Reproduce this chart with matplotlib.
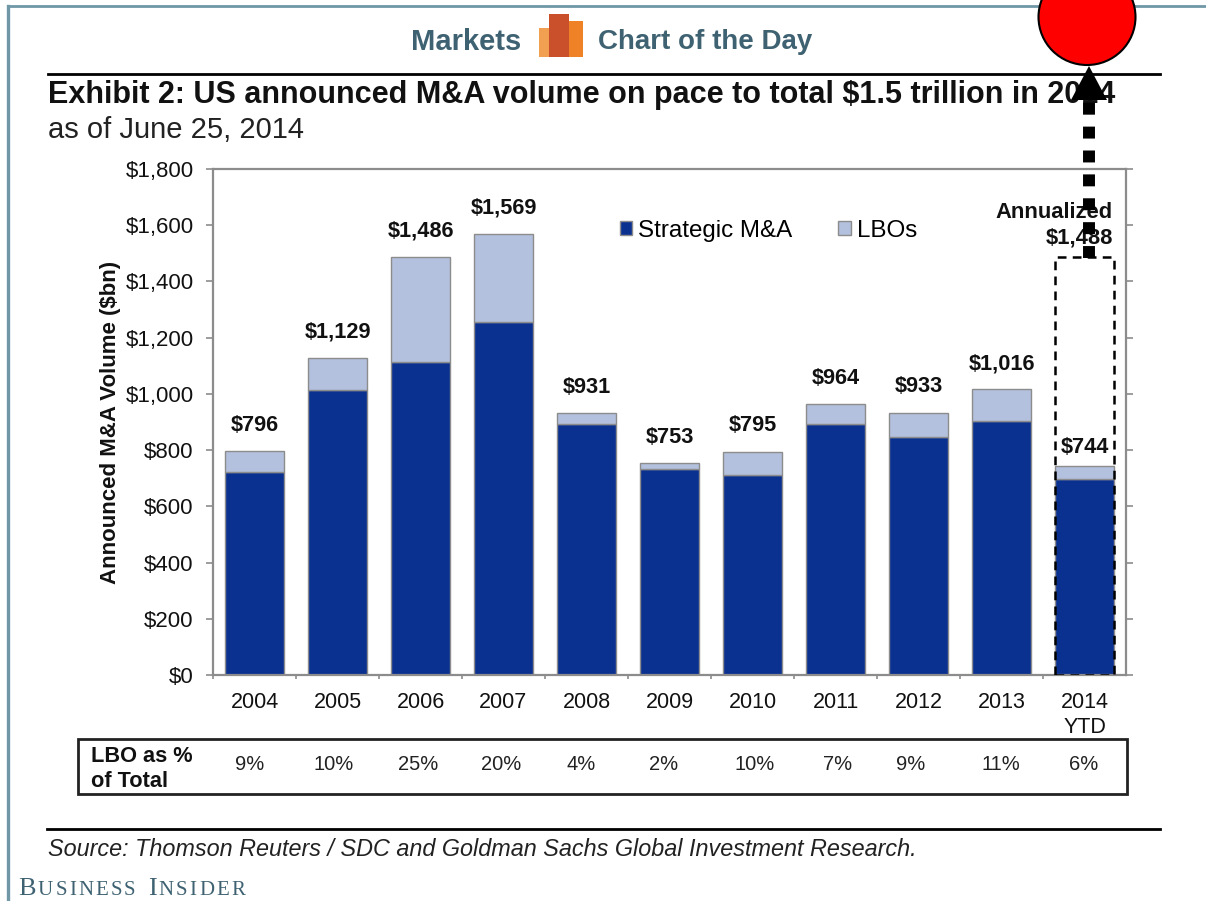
#!/usr/bin/python3

import matplotlib
matplotlib.use('Agg')
import matplotlib.pyplot as plt
from matplotlib.patches import Rectangle, Ellipse
import numpy as np

W, H = 1206, 901

years = ['2004', '2005', '2006', '2007', '2008', '2009', '2010', '2011', '2012', '2013', '2014\nYTD']
strategic = [722, 1015, 1115, 1255, 893, 732, 713, 893, 845, 905, 697]
totals = [796, 1129, 1486, 1569, 931, 753, 795, 964, 933, 1016, 744]
lbo_pct = ['9%', '10%', '25%', '20%', '4%', '2%', '10%', '7%', '9%', '11%', '6%']
y_ticks = [0, 200, 400, 600, 800, 1000, 1200, 1400, 1600, 1800]
annualized = 1488

# the percentages are not quite centred under the bars in the original
pct_x = [250, 334, 418, 501, 581, 664, 755, 838, 911, 1001, 1084]

BLUE = '#0B3190'
LIGHT = '#B3C1DE'
GREY = '#8C8C8C'
TEAL = '#6F97A6'
HEAD = '#3F6272'

plt.rcParams['font.family'] = ['Liberation Sans', 'DejaVu Sans']

fig = plt.figure(figsize=(W / 100, H / 100), dpi=100)

# overlay in pixel coordinates for the page furniture
page = fig.add_axes([0, 0, 1, 1], zorder=0)
page.set_xlim(0, W)
page.set_ylim(H, 0)
page.axis('off')

# chart axes
left, right, top, bottom = 213, 1126, 169, 675
ax = fig.add_axes([left / W, 1 - bottom / H, (right - left) / W, (bottom - top) / H], zorder=1)
ax.patch.set_alpha(0)
x = np.arange(len(years))
lbos = [t - s for t, s in zip(totals, strategic)]
ax.bar(x, strategic, width=0.71, color=BLUE, edgecolor=GREY, linewidth=1.0, label='Strategic M&A')
ax.bar(x, lbos, width=0.71, bottom=strategic, color=LIGHT, edgecolor=GREY, linewidth=1.0, label='LBOs')
ax.set_xlim(-0.5, len(years) - 0.5)
ax.set_ylim(0, 1800)

ax.set_yticks(y_ticks)
ax.set_yticklabels(['${:,}'.format(v) for v in y_ticks], fontsize=16, color='#111111')
ax.set_xticks(x - 0.5, minor=False)
ax.set_xticklabels([''] * len(x))
ax.xaxis.set_tick_params(length=3, color=GREY, width=1.2)
ax.tick_params(axis='y', length=5, color=GREY, width=1.2, right=True, pad=9)
for s in ax.spines.values():
    s.set_color(GREY)
    s.set_linewidth(1.6)

for i, lab in enumerate(years):
    ax.annotate(lab, (i, 0), xytext=(0, -12), textcoords='offset points', ha='center', va='top',
                fontsize=15.5, color='#111111', linespacing=1.3)

# total labels, the 2014 one sits closer to its bar
for i, t in enumerate(totals):
    off = 6 if i == 10 else 11
    ax.annotate('${:,}'.format(t), (i, t), xytext=(0, off), textcoords='offset points',
                ha='center', va='bottom', fontsize=15.7, fontweight='bold', color='#111111')

# annualized box
ax.add_patch(Rectangle((10 - 0.355, 0), 0.71, annualized, fill=False, edgecolor='black',
                       linestyle=(0, (3.5, 2.5)), linewidth=1.8, zorder=4))
ax.text(10.34, annualized + 28, 'Annualized\n$1,488', ha='right', va='bottom', fontsize=15.8,
        fontweight='bold', color='#111111', linespacing=1.3)

ax.set_ylabel('Announced M&A Volume ($bn)', fontsize=16, fontweight='bold', labelpad=3.5, color='#111111')

leg = ax.legend(loc='upper left', bbox_to_anchor=(0.446, 0.9), ncol=2, frameon=False, fontsize=17.4,
                handlelength=0.5, handleheight=0.5, handletextpad=0.25, columnspacing=1.9,
                borderpad=0, borderaxespad=0)

# frame
page.plot([8, 8], [6, H], color=TEAL, lw=2.4)
page.plot([8, W], [6, 6], color=TEAL, lw=2)

# header
page.text(466, 42, 'Markets', ha='center', va='center', fontsize=21, fontweight='bold', color=HEAD)
page.text(705, 42, 'Chart of the Day', ha='center', va='center', fontsize=20, fontweight='bold', color=HEAD)
page.add_patch(Rectangle((539, 28), 44, 29, color='#F0A050', lw=0))
page.add_patch(Rectangle((549, 14), 20, 43, color='#C9502A', lw=0))
page.add_patch(Rectangle((569, 21), 14, 36, color='#EF8227', lw=0))

page.plot([48, 1160], [73.5, 73.5], color='black', lw=2)
page.text(48, 95, 'Exhibit 2: US announced M&A volume on pace to total $1.5 trillion in 2014',
          ha='left', va='center', fontsize=22, fontweight='bold', color='#111111')
page.text(48, 130, 'as of June 25, 2014', ha='left', va='center', fontsize=21, color='#222222')

# table under the chart
page.add_patch(Rectangle((78, 739), 1049, 55, fill=False, edgecolor='#222222', lw=2))
page.text(91, 769, 'LBO as %\nof Total', ha='left', va='center', fontsize=15.7, fontweight='bold',
          color='#111111', linespacing=1.25)
for cx, p in zip(pct_x, lbo_pct):
    page.text(cx, 765, p, ha='center', va='center', fontsize=14.5, color='#222222')

# footer
page.plot([47, 1160], [829, 829], color='black', lw=2)
page.text(48, 850, 'Source: Thomson Reuters / SDC and Goldman Sachs Global Investment Research.',
          ha='left', va='center', fontsize=16.8, style='italic', color='#222222')

# small caps wordmark, set letter by letter for the tracking
fig.canvas.draw()
bi_x = 18
for word in ['Business', 'Insider']:
    for n, ch in enumerate(word):
        t = page.text(bi_x, 895, ch.upper(), ha='left', va='baseline', fontsize=19 if n == 0 else 15,
                      color=HEAD, family='Liberation Serif')
        bi_x += t.get_window_extent().width + 2.2
    bi_x += 10

# dashed arrow and red circle drawn over everything
over = fig.add_axes([0, 0, 1, 1], zorder=5)
over.set_xlim(0, W)
over.set_ylim(H, 0)
over.axis('off')
over.plot([1089, 1089], [258, 100], color='black', lw=8.6, linestyle=(0, (1, 1)), solid_capstyle='butt')
over.fill([1089, 1071, 1107], [66, 100, 100], color='black', lw=0)
over.add_patch(Ellipse((1087, 17), 97, 96, facecolor='#FF0000', edgecolor='black', lw=1.5))

fig.savefig('out.png', dpi=100)
